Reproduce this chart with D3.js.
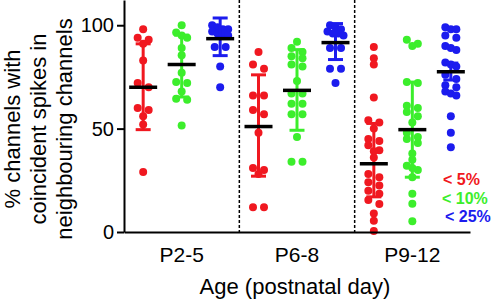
<!DOCTYPE html>
<html>
<head>
<meta charset="utf-8">
<script src="https://cdn.jsdelivr.net/npm/d3@7"></script>
<style>
  body { margin: 0; background: #fff; }
  svg { display: block; font-family: "Liberation Sans", Arial, sans-serif; }
  .axis path, .axis line { stroke: #000; stroke-width: 2; }
  .axis text { fill: #000; }
</style>
</head>
<body>
<svg id="chart" width="503" height="300"></svg>
<script>
// age groups on the x axis
const groups = ["P2-5", "P6-8", "P9-12"];
const series = ["< 5%", "< 10%", "< 25%"];
const colors = ["#f01820", "#3cee2c", "#1c1cee"];
const yTicks = [0, 50, 100];

// individual recordings, one array per age group
const red = [
  [98, 94, 93, 91, 83, 72, 70, 60, 59, 56, 52, 29],
  [87, 81, 79, 66, 66, 59, 57, 48, 31, 30, 28, 12, 12],
  [89.5, 84, 81, 65, 54, 53, 50, 45, 44, 42, 39.5, 39, 36, 28, 26.5, 24, 22.5, 20, 18.5, 15.5, 13.5, 9, 5.5, 0.5]
];
const green = [
  [100, 96.5, 95, 94, 89, 85.5, 77, 72.5, 72, 68, 64.5, 64, 51.5],
  [92, 89, 87, 85, 84, 81, 80, 73, 67, 67, 62, 62, 57, 57, 46, 34, 34],
  [93, 91, 90, 72.5, 72, 61, 60, 58, 56, 53, 48, 46, 45, 43, 38, 35, 32, 31, 30, 26.5, 18.5, 13.7, 5.2]
];
const blue = [
  [100, 99, 98, 98, 97, 96, 96, 95, 89.5, 89.5, 80, 70],
  [100, 99, 98, 97, 96, 96, 95, 89, 89, 79, 79, 72],
  [99, 98, 98, 95, 94, 90, 89, 88, 82, 81, 80, 76, 74, 71, 70, 68, 67, 66, 56, 48, 41]
];

// centre line and error bar ends, per series, per age group
const centres = [[70, 51, 33], [81, 68.5, 49.5], [93.5, 91.6, 77.5]];
const errLow = [[49.5, 27, 17], [65.3, 49.2, 26.5], [85.3, 83.4, 73.5]];
const errHigh = [[91, 76, 52.5], [95.2, 88.2, 72.5], [103.5, 100.8, 81.7]];

const values = [red, green, blue];

const svg = d3.select("#chart");
const x0 = 124, x1 = 470, yBottom = 232;

const x = d3.scaleBand().domain(groups).range([x0, x1]);
const xSub = d3.scalePoint().domain(series).range([-38.5, 38.5]);
const y = d3.scaleLinear().domain([0, 112.2]).range([yBottom, 0]);

// dashed separators between age groups
svg.append("g")
  .selectAll("line")
  .data(groups.slice(1))
  .join("line")
  .attr("x1", d => x(d)).attr("x2", d => x(d))
  .attr("y1", 0).attr("y2", yBottom)
  .attr("stroke", "#000")
  .attr("stroke-width", 1.5)
  .attr("stroke-dasharray", "3,2");

// simple swarm: points close in y share a row and are spread sideways
function swarm(vals) {
  const sorted = vals.slice().sort((a, b) => b - a);
  const out = [];
  let i = 0;
  while (i < sorted.length) {
    const start = y(sorted[i]);
    let j = i;
    while (j < sorted.length && y(sorted[j]) - start < 6) j++;
    const n = j - i;
    const w = n === 1 ? 0 : n <= 3 ? 11 : 16;
    for (let k = 0; k < n; k++) {
      out.push({ v: sorted[i + k], dx: n === 1 ? 0 : -w / 2 + k * w / (n - 1) });
    }
    i = j;
  }
  return out;
}

series.forEach((s, si) => {
  groups.forEach((g, gi) => {
    const cx = x(g) + x.bandwidth() / 2 + xSub(s);
    const col = svg.append("g");

    col.selectAll("circle")
      .data(swarm(values[si][gi]))
      .join("circle")
      .attr("cx", d => cx + d.dx)
      .attr("cy", d => y(d.v))
      .attr("r", 4)
      .attr("fill", colors[si]);

    // error bar
    col.append("line")
      .attr("x1", cx).attr("x2", cx)
      .attr("y1", y(errLow[si][gi])).attr("y2", y(errHigh[si][gi]))
      .attr("stroke", colors[si]).attr("stroke-width", 3);
    col.selectAll(".cap")
      .data([errLow[si][gi], errHigh[si][gi]])
      .join("line")
      .attr("class", "cap")
      .attr("x1", cx - 7.5).attr("x2", cx + 7.5)
      .attr("y1", d => y(d)).attr("y2", d => y(d))
      .attr("stroke", colors[si]).attr("stroke-width", 3);

    // centre line
    col.append("line")
      .attr("x1", cx - 14).attr("x2", cx + 14)
      .attr("y1", y(centres[si][gi])).attr("y2", y(centres[si][gi]))
      .attr("stroke", "#000").attr("stroke-width", 3.5);
  });
});

svg.append("g")
  .attr("class", "axis")
  .attr("transform", `translate(${x0},0)`)
  .call(d3.axisLeft(y).tickValues(yTicks).tickSize(7).tickSizeOuter(0).tickPadding(3))
  .selectAll("text").attr("font-size", 20);

svg.append("g")
  .attr("class", "axis")
  .attr("transform", `translate(0,${yBottom})`)
  .call(d3.axisBottom(x).tickSize(0).tickSizeOuter(0).tickPadding(15))
  .selectAll("text").attr("font-size", 21);

svg.selectAll(".axis").attr("font-family", null);

svg.append("text")
  .attr("x", 295).attr("y", 294)
  .attr("text-anchor", "middle")
  .attr("font-size", 22)
  .text("Age (postnatal day)");

const yTitle = ["% channels with", "coincident spikes in", "neighbouring channels"];
svg.append("g")
  .selectAll("text")
  .data(yTitle)
  .join("text")
  .attr("transform", (d, i) => `translate(${20 + i * 26},129) rotate(-90)`)
  .attr("text-anchor", "middle")
  .attr("font-size", 22)
  .text(d => d);

// legend
svg.append("g")
  .selectAll("text")
  .data(series)
  .join("text")
  .attr("x", (d, i) => [443, 442, 445][i])
  .attr("y", (d, i) => 185 + i * 18.5)
  .attr("font-size", 16)
  .attr("font-weight", "bold")
  .attr("fill", (d, i) => colors[i])
  .text(d => d);
</script>
</body>
</html>
